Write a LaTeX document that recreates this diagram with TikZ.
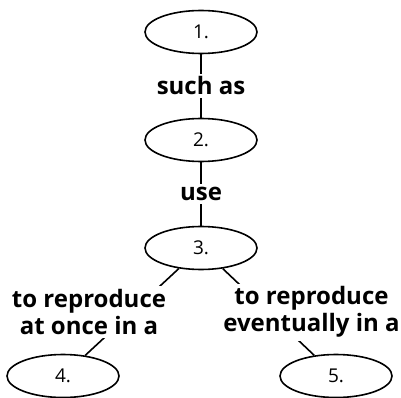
\documentclass[tikz,border=0pt]{standalone}
\usepackage{fontspec}
\setmainfont{Open Sans}
\usetikzlibrary{shapes.geometric}

\tikzset{
  concept/.style={draw,ellipse,line width=1.6pt,minimum width=112pt,minimum height=43pt,
    inner sep=0pt,font=\fontsize{19}{22}\selectfont},
  linking/.style={fill=white,inner sep=3pt,align=center,
    font=\bfseries\fontsize{24}{27}\selectfont},
  link/.style={line width=1.6pt}
}

\begin{document}
\begin{tikzpicture}[x=1pt,y=-1pt]
\useasboundingbox (0,0) rectangle (401,398);
% concepts
\node[concept] (c1) at (201,32) {1.};
\node[concept] (c2) at (201,140) {2.};
\node[concept] (c3) at (201,248) {3.};
\node[concept] (c4) at (63,376) {4.};
\node[concept] (c5) at (336,376) {5.};
% links
\draw[link] (c1) -- node[linking] (l1) {such as} (c2);
\draw[link] (c2) -- node[linking] (l2) {use} (c3);
\draw[link] (c3) -- node[linking,xshift=-43pt] (l3) {to reproduce\\at once in a} (c4);
\draw[link] (c3) -- node[linking,xshift=43pt] (l4) {to reproduce\\eventually in a} (c5);
\end{tikzpicture}
\end{document}
